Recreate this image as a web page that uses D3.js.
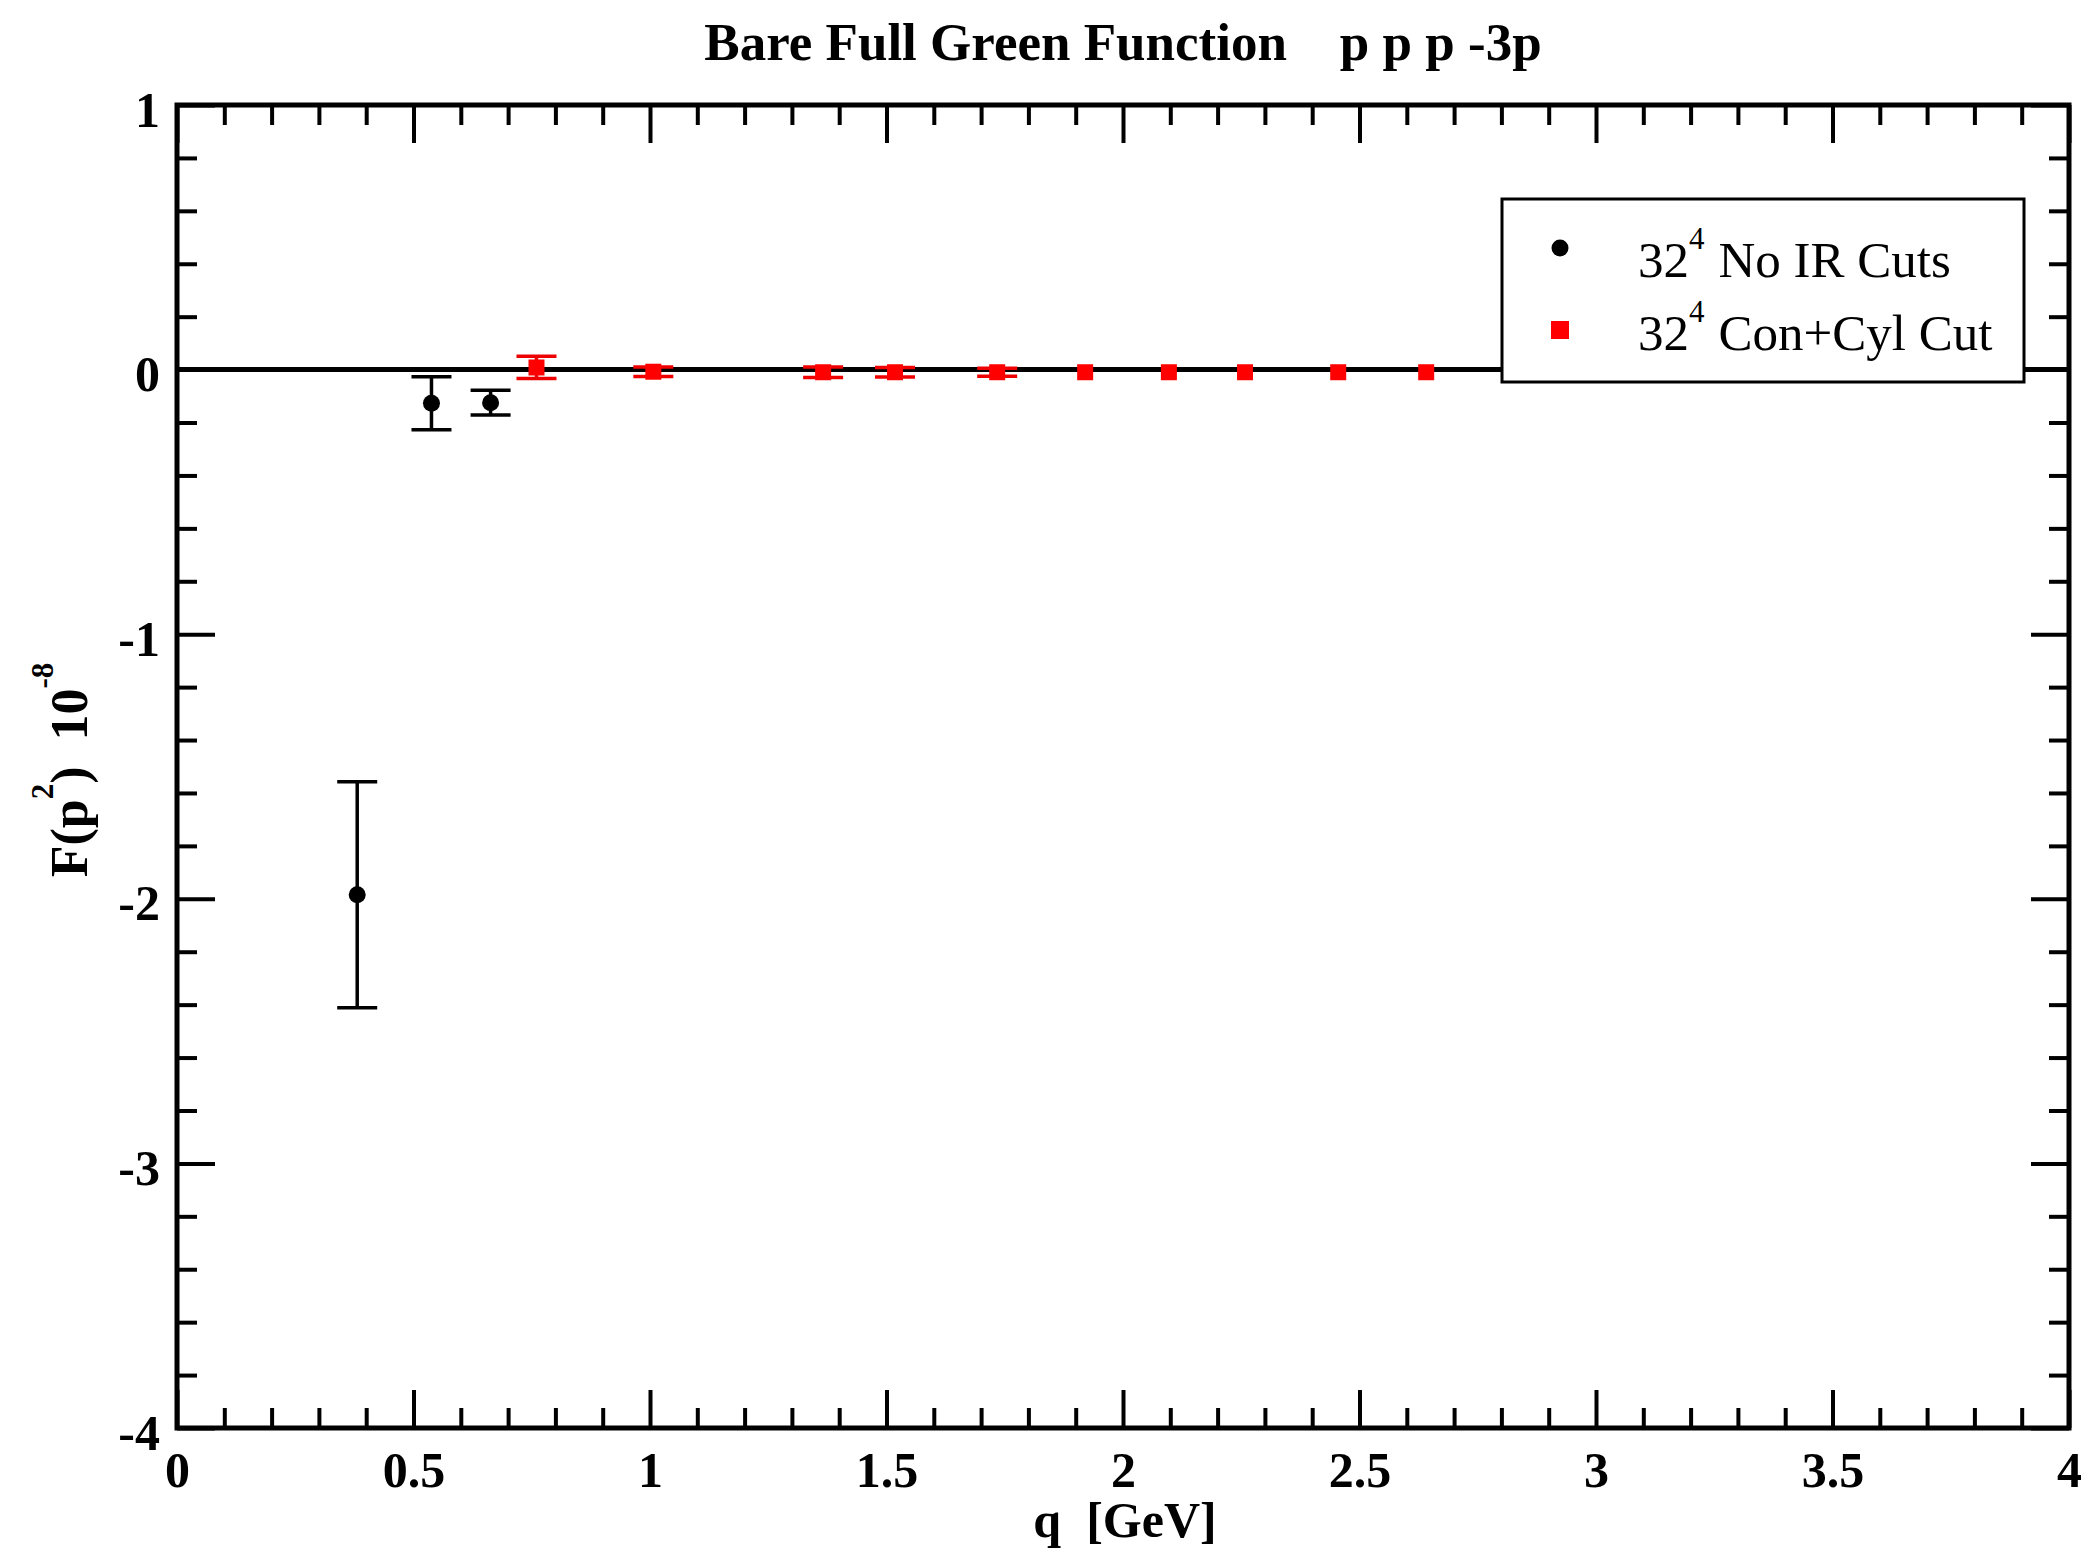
<!DOCTYPE html>
<html>
<head>
<meta charset="utf-8">
<script src="https://cdn.jsdelivr.net/npm/d3@7"></script>
<style>
  body { margin: 0; background: #fff; }
  text { font-family: "Liberation Serif", "Times New Roman", serif; }
</style>
</head>
<body>
<svg id="chart" width="2081" height="1563"></svg>
<script>
// data
var blackX = [0.381, 0.538, 0.663];
var blackY = [-1.985, -0.127, -0.125];
var blackErr = [0.427, 0.100, 0.047];

var redX = [0.760, 1.007, 1.366, 1.518, 1.734, 1.920, 2.097, 2.258, 2.455, 2.641];
var redY = [0.008, -0.008, -0.010, -0.010, -0.010, -0.010, -0.010, -0.010, -0.010, -0.010];
var redErr = [0.042, 0.018, 0.020, 0.018, 0.015, 0, 0, 0, 0, 0];

var xTicks = [0, 0.5, 1, 1.5, 2, 2.5, 3, 3.5, 4];
var xTickLabels = ["0", "0.5", "1", "1.5", "2", "2.5", "3", "3.5", "4"];
var yTicks = [1, 0, -1, -2, -3, -4];
var yTickLabels = ["1", "0", "-1", "-2", "-3", "-4"];

var legendNames = ["No IR Cuts", "Con+Cyl Cut"];

var svg = d3.select("#chart");
var x0 = 177, x1 = 2069, y0 = 105, y1 = 1428;

var x = d3.scaleLinear().domain([0, 4]).range([x0, x1]);
var y = d3.scaleLinear().domain([-4, 1]).range([y1, y0]);

svg.append("rect").attr("width", 2081).attr("height", 1563).attr("fill", "#fff");

// minor tick values
var xMinor = d3.range(0, 41).map(function(i){ return i / 10; }).filter(function(v){ return Math.abs(v * 2 - Math.round(v * 2)) > 1e-6; });
var yMinor = d3.range(-20, 6).map(function(i){ return i / 5; }).filter(function(v){ return Math.abs(v - Math.round(v)) > 1e-6; });

function styleAxis(g) {
    g.select(".domain").remove();
    g.selectAll(".tick line").attr("stroke", "#000").attr("stroke-width", 4);
    g.selectAll(".tick text").attr("font-family", "Liberation Serif").attr("font-weight", "bold")
        .attr("font-size", 50).attr("fill", "#000");
}

// major ticks, all four sides, pointing in
svg.append("g").attr("transform", "translate(0," + y1 + ")")
    .call(d3.axisBottom(x).tickValues(xTicks).tickSize(-38).tickPadding(23)
        .tickFormat(function(d, i){ return xTickLabels[i]; }))
    .call(styleAxis);
svg.append("g").attr("transform", "translate(0," + y0 + ")")
    .call(d3.axisTop(x).tickValues(xTicks).tickSize(-38).tickFormat(""))
    .call(styleAxis);
svg.append("g").attr("transform", "translate(" + x0 + ",0)")
    .call(d3.axisLeft(y).tickValues(yTicks).tickSize(-38).tickPadding(17)
        .tickFormat(function(d, i){ return yTickLabels[i]; }))
    .call(styleAxis)
    .selectAll(".tick text").attr("dy", "0.42em");
svg.append("g").attr("transform", "translate(" + x1 + ",0)")
    .call(d3.axisRight(y).tickValues(yTicks).tickSize(-38).tickFormat(""))
    .call(styleAxis);

// minor ticks
svg.append("g").attr("transform", "translate(0," + y1 + ")")
    .call(d3.axisBottom(x).tickValues(xMinor).tickSize(-20).tickFormat("")).call(styleAxis);
svg.append("g").attr("transform", "translate(0," + y0 + ")")
    .call(d3.axisTop(x).tickValues(xMinor).tickSize(-20).tickFormat("")).call(styleAxis);
svg.append("g").attr("transform", "translate(" + x0 + ",0)")
    .call(d3.axisLeft(y).tickValues(yMinor).tickSize(-20).tickFormat("")).call(styleAxis);
svg.append("g").attr("transform", "translate(" + x1 + ",0)")
    .call(d3.axisRight(y).tickValues(yMinor).tickSize(-20).tickFormat("")).call(styleAxis);

// zero line
svg.append("line").attr("x1", x(0)).attr("x2", x(4)).attr("y1", y(0)).attr("y2", y(0))
    .attr("stroke", "#000").attr("stroke-width", 5);

// frame
svg.append("rect").attr("x", x0).attr("y", y0).attr("width", x1 - x0).attr("height", y1 - y0)
    .attr("fill", "none").attr("stroke", "#000").attr("stroke-width", 5);

// error bars
function errorBars(xs, ys, es, color) {
    var pts = xs.map(function(v, i){ return {x: v, y: ys[i], e: es[i]}; }).filter(function(d){ return d.e > 0; });
    var g = svg.append("g").attr("stroke", color).attr("stroke-width", 3.5);
    g.selectAll(".bar").data(pts).enter().append("line")
        .attr("x1", function(d){ return x(d.x); }).attr("x2", function(d){ return x(d.x); })
        .attr("y1", function(d){ return y(d.y + d.e); }).attr("y2", function(d){ return y(d.y - d.e); });
    g.selectAll(".capt").data(pts).enter().append("line")
        .attr("x1", function(d){ return x(d.x) - 20; }).attr("x2", function(d){ return x(d.x) + 20; })
        .attr("y1", function(d){ return y(d.y + d.e); }).attr("y2", function(d){ return y(d.y + d.e); });
    g.selectAll(".capb").data(pts).enter().append("line")
        .attr("x1", function(d){ return x(d.x) - 20; }).attr("x2", function(d){ return x(d.x) + 20; })
        .attr("y1", function(d){ return y(d.y - d.e); }).attr("y2", function(d){ return y(d.y - d.e); });
}
errorBars(blackX, blackY, blackErr, "#000");
errorBars(redX, redY, redErr, "#e00");

svg.append("g").selectAll("circle").data(blackX).enter().append("circle")
    .attr("cx", function(d){ return x(d); })
    .attr("cy", function(d, i){ return y(blackY[i]); })
    .attr("r", 8.5).attr("fill", "#000");

svg.append("g").selectAll("rect").data(redX).enter().append("rect")
    .attr("x", function(d){ return x(d) - 8; })
    .attr("y", function(d, i){ return y(redY[i]) - 8; })
    .attr("width", 16).attr("height", 16).attr("fill", "#f00");

// legend
var lg = svg.append("g");
lg.append("rect").attr("x", 1502).attr("y", 199).attr("width", 522).attr("height", 183)
    .attr("fill", "#fff").attr("stroke", "#000").attr("stroke-width", 3);
lg.append("circle").attr("cx", 1560).attr("cy", 248).attr("r", 8.5).attr("fill", "#000");
lg.append("rect").attr("x", 1551).attr("y", 321).attr("width", 18).attr("height", 18).attr("fill", "#f00");
legendNames.forEach(function(name, i){
    var t = lg.append("text").attr("x", 1638).attr("y", 277 + i * 73).attr("font-size", 51).attr("fill", "#000");
    t.append("tspan").text("32");
    t.append("tspan").attr("font-size", 31).attr("dy", -28).text("4");
    t.append("tspan").attr("dy", 28).attr("dx", 14).text(name);
});

// title and axis labels
svg.append("text").attr("x", 1123).attr("y", 60).attr("text-anchor", "middle")
    .attr("font-size", 53).attr("font-weight", "bold").style("white-space", "pre")
    .text("Bare Full Green Function    p p p -3p");

svg.append("text").attr("x", 1125).attr("y", 1537).attr("text-anchor", "middle")
    .attr("font-size", 50).attr("font-weight", "bold").style("white-space", "pre")
    .text("q  [GeV]");

var yl = svg.append("text").attr("transform", "translate(87,770) rotate(-90)")
    .attr("text-anchor", "middle").attr("font-size", 52).attr("font-weight", "bold")
    .style("white-space", "pre");
yl.append("tspan").text("F(p");
yl.append("tspan").attr("font-size", 31).attr("dy", -34).text("2");
yl.append("tspan").attr("dy", 34).text(")  10");
yl.append("tspan").attr("font-size", 31).attr("dy", -34).text("-8");
</script>
</body>
</html>
